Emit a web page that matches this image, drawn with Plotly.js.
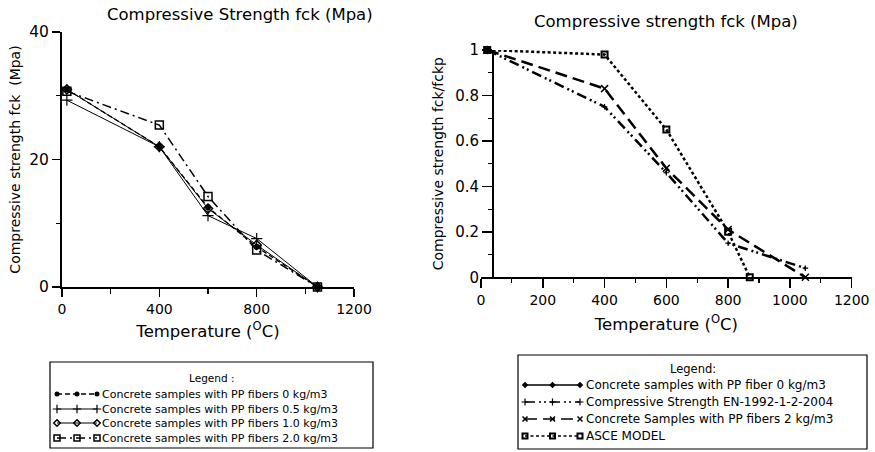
<!DOCTYPE html>
<html><head><meta charset="utf-8">
<script src="https://cdn.plot.ly/plotly-3.0.1.min.js"></script>
<style>html,body{margin:0;padding:0;background:#fff}#chart{width:875px;height:452px}</style>
</head><body><div id="chart"></div>
<script>
// ---------- Left chart data (Compressive strength, MPa) ----------
const tempLeft = [20, 400, 600, 800, 1050];
const fckPP00 = [31.0, 22.0, 12.5, 6.3, 0];
const fckPP05 = [29.3, 22.0, 11.2, 7.6, 0];
const fckPP10 = [31.0, 22.0, 12.3, 6.6, 0];
const fckPP20 = [30.7, 25.4, 14.2, 5.8, 0];
const leftNames = [
  "Concrete samples with PP fibers 0 kg/m3",
  "Concrete samples with PP fibers 0.5 kg/m3",
  "Concrete samples with PP fibers 1.0 kg/m3",
  "Concrete samples with PP fibers 2.0 kg/m3"
];
const xTicksLeft = [0, 400, 800, 1200];
const xMinorLeft = [200, 600, 1000];
const yTicksLeft = [0, 20, 40];
const yMinorLeft = [10, 30];

// ---------- Right chart data (relative strength fck/fckp) ----------
const tempPP0R = [20];
const ratioPP0 = [1.0];
const tempEN = [20, 400, 600, 800, 1050];
const ratioEN = [1.0, 0.75, 0.46, 0.15, 0.04];
const tempPP2R = [20, 400, 600, 800, 1050];
const ratioPP2 = [1.0, 0.83, 0.48, 0.21, 0.0];
const tempASCE = [20, 400, 600, 800, 870];
const ratioASCE = [1.0, 0.98, 0.65, 0.20, 0.0];
const rightNames = [
  "Concrete samples with PP fiber 0 kg/m3",
  "Compressive Strength EN-1992-1-2-2004",
  "Concrete Samples with PP fibers 2 kg/m3",
  "ASCE MODEL"
];
const xTicksRight = [0, 200, 400, 600, 800, 1000, 1200];
const xMinorRight = [100, 300, 500, 700, 900, 1100];
const yTicksRight = [0, 0.2, 0.4, 0.6, 0.8, 1];
const yMinorRight = [0.1, 0.3, 0.5, 0.7, 0.9];

// ---------- helpers ----------
const W = 875, H = 452;
const px = v => v / W;
const py = v => 1 - v / H;
const FONT = "DejaVu Sans, Arial, sans-serif";
const K = "#000";

// styles
const leftStyles = [
  {line: {color: K, width: 1.3, dash: "5px,3px"}, marker: {symbol: "circle", size: 6, color: K}},
  {line: {color: K, width: 1}, marker: {symbol: "cross-thin-open", size: 8, line: {color: K, width: 1.2}}},
  {line: {color: K, width: 1}, marker: {symbol: "diamond-open", size: 7, color: K, line: {color: K, width: 1.5}}},
  {line: {color: K, width: 1.5, dash: "9px,4px,2px,4px"}, marker: {symbol: "square-open", size: 8, color: K, line: {color: K, width: 1.5}}}
];
const rightStyles = [
  {line: {color: K, width: 1.5}, marker: {symbol: "diamond", size: 7, color: K}},
  {line: {color: K, width: 2.5, dash: "10px,4px,2px,3px,2px,4px"}, marker: {symbol: "cross-thin-open", size: 4, line: {color: K, width: 1.2}}},
  {line: {color: K, width: 2.5, dash: "12px,6px"}, marker: {symbol: "x-thin-open", size: 7, line: {color: K, width: 1.5}}},
  {line: {color: K, width: 2.5, dash: "3px,2.5px"}, marker: {symbol: "square-open", size: 6, color: K, line: {color: K, width: 2}}}
];

const leftY = [fckPP00, fckPP05, fckPP10, fckPP20];
const rightX = [tempPP0R, tempEN, tempPP2R, tempASCE];
const rightY = [ratioPP0, ratioEN, ratioPP2, ratioASCE];

const traces = [];
leftY.forEach((ys, i) => traces.push(Object.assign({
  type: "scatter", mode: "lines+markers", x: tempLeft, y: ys, name: leftNames[i],
  xaxis: "x", yaxis: "y", cliponaxis: false, showlegend: false
}, leftStyles[i])));
rightY.forEach((ys, i) => traces.push(Object.assign({
  type: "scatter", mode: "lines+markers", x: rightX[i], y: ys, name: rightNames[i],
  xaxis: "x2", yaxis: "y2", cliponaxis: false, showlegend: false
}, rightStyles[i])));

// ---------- custom legends (drawn on a hidden pixel-space overlay axis) ----------
const legL = {x0: 50, x1: 373, y0: 362, y1: 448, s0: 57, s1: 97, tx: 100, ty: 378, rows: [394, 409, 423, 438], fs: 11, title: "Legend :"};
const legR = {x0: 518, x1: 867, y0: 355, y1: 449, s0: 525, s1: 580, tx: 584, ty: 369, rows: [385, 402, 419, 436], fs: 12, title: "Legend:"};

const shapes = [];
const annotations = [];
[[legL, leftStyles, leftNames], [legR, rightStyles, rightNames]].forEach(([L, styles, names]) => {
  shapes.push({type: "rect", xref: "paper", yref: "paper", x0: px(L.x0), x1: px(L.x1), y0: py(L.y1), y1: py(L.y0),
    line: {color: K, width: 1.2}, fillcolor: "rgba(0,0,0,0)"});
  annotations.push({xref: "paper", yref: "paper", x: px((L.x0 + L.x1) / 2), y: py(L.ty), text: L.title,
    showarrow: false, xanchor: "center", yanchor: "middle", font: {family: FONT, size: L.fs - 0.5, color: K}});
  names.forEach((nm, i) => {
    const st = styles[i];
    traces.push({type: "scatter", mode: "lines+markers", xaxis: "x3", yaxis: "y3", showlegend: false,
      hoverinfo: "skip", cliponaxis: false,
      x: [L.s0, (L.s0 + L.s1) / 2, L.s1], y: [L.rows[i], L.rows[i], L.rows[i]],
      line: Object.assign({}, st.line, {width: Math.min(st.line.width, 1.5)}),
      marker: Object.assign({}, st.marker, {size: Math.max(st.marker.size - 2, 5)})});
    annotations.push({xref: "paper", yref: "paper", x: px(L.tx), y: py(L.rows[i]), text: nm,
      showarrow: false, xanchor: "left", yanchor: "middle", font: {family: FONT, size: L.fs, color: K}});
  });
});

// ---------- chart titles ----------
const titleFont = {family: FONT, size: 16.5, color: K};
const yTitleFont = {family: FONT, size: 14, color: K};
annotations.push(
  {xref: "paper", yref: "paper", x: px(240), y: py(14), text: "Compressive Strength fck (Mpa)", showarrow: false, xanchor: "center", yanchor: "middle", font: titleFont},
  {xref: "paper", yref: "paper", x: px(666), y: py(22), text: "Compressive strength fck (Mpa)", showarrow: false, xanchor: "center", yanchor: "middle", font: titleFont}
);

const tickFont = {family: FONT, size: 14, color: K};
const axisBase = {showgrid: false, zeroline: false, showline: true, linecolor: K, ticks: "outside",
  tickcolor: K, tickfont: tickFont, fixedrange: true, automargin: false};

const layout = {
  width: W, height: H,
  margin: {l: 0, r: 0, t: 0, b: 0, pad: 0},
  paper_bgcolor: "#fff", plot_bgcolor: "rgba(0,0,0,0)",
  showlegend: false,
  xaxis: Object.assign({}, axisBase, {domain: [px(62), px(354)], range: [0, 1200], anchor: "y",
    title: {text: "Temperature (<sup>O</sup>C)", font: titleFont, standoff: 10},
    tickmode: "array", tickvals: xTicksLeft, ticklen: 8, tickwidth: 1.5, linewidth: 2,
    minor: {tickmode: "array", tickvals: xMinorLeft, ticks: "outside", ticklen: 5, tickwidth: 1.2, tickcolor: K, showgrid: false}}),
  yaxis: Object.assign({}, axisBase, {domain: [py(287), py(32)], range: [0, 40], anchor: "x",
    title: {text: "Compressive strength fck\u00a0 (Mpa)", font: yTitleFont, standoff: 5},
    tickmode: "array", tickvals: yTicksLeft, ticklen: 8, tickwidth: 1.5, linewidth: 2, tickfont: {family: FONT, size: 15.5, color: K},
    minor: {tickmode: "array", tickvals: yMinorLeft, ticks: "outside", ticklen: 4, tickwidth: 1.2, tickcolor: K, showgrid: false}}),
  xaxis2: Object.assign({}, axisBase, {domain: [px(481), px(851.7)], range: [0, 1200], anchor: "y2",
    title: {text: "Temperature (<sup>O</sup>C)", font: titleFont, standoff: 11},
    tickmode: "array", tickvals: xTicksRight, ticklen: 9, tickwidth: 1.5, linewidth: 2,
    minor: {tickmode: "array", tickvals: xMinorRight, ticks: "outside", ticklen: 4, tickwidth: 1.2, tickcolor: K, showgrid: false}}),
  yaxis2: Object.assign({}, axisBase, {domain: [py(277.3), py(50)], range: [0, 1], anchor: "free", position: px(492),
    title: {text: "Compressive strength fck/fckp", font: yTitleFont, standoff: 6},
    tickmode: "array", tickvals: yTicksRight, ticklen: 10, tickwidth: 1.5, linewidth: 1.5, tickfont: {family: FONT, size: 15, color: K},
    minor: {tickmode: "array", tickvals: yMinorRight, ticks: "outside", ticklen: 4, tickwidth: 1.2, tickcolor: K, showgrid: false}}),
  xaxis3: {domain: [0, 1], range: [0, W], visible: false, anchor: "y3", fixedrange: true},
  yaxis3: {domain: [0, 1], range: [H, 0], visible: false, anchor: "x3", fixedrange: true},
  shapes: shapes,
  annotations: annotations
};

Plotly.newPlot("chart", traces, layout, {displayModeBar: false, staticPlot: true});
</script>
</body></html>
